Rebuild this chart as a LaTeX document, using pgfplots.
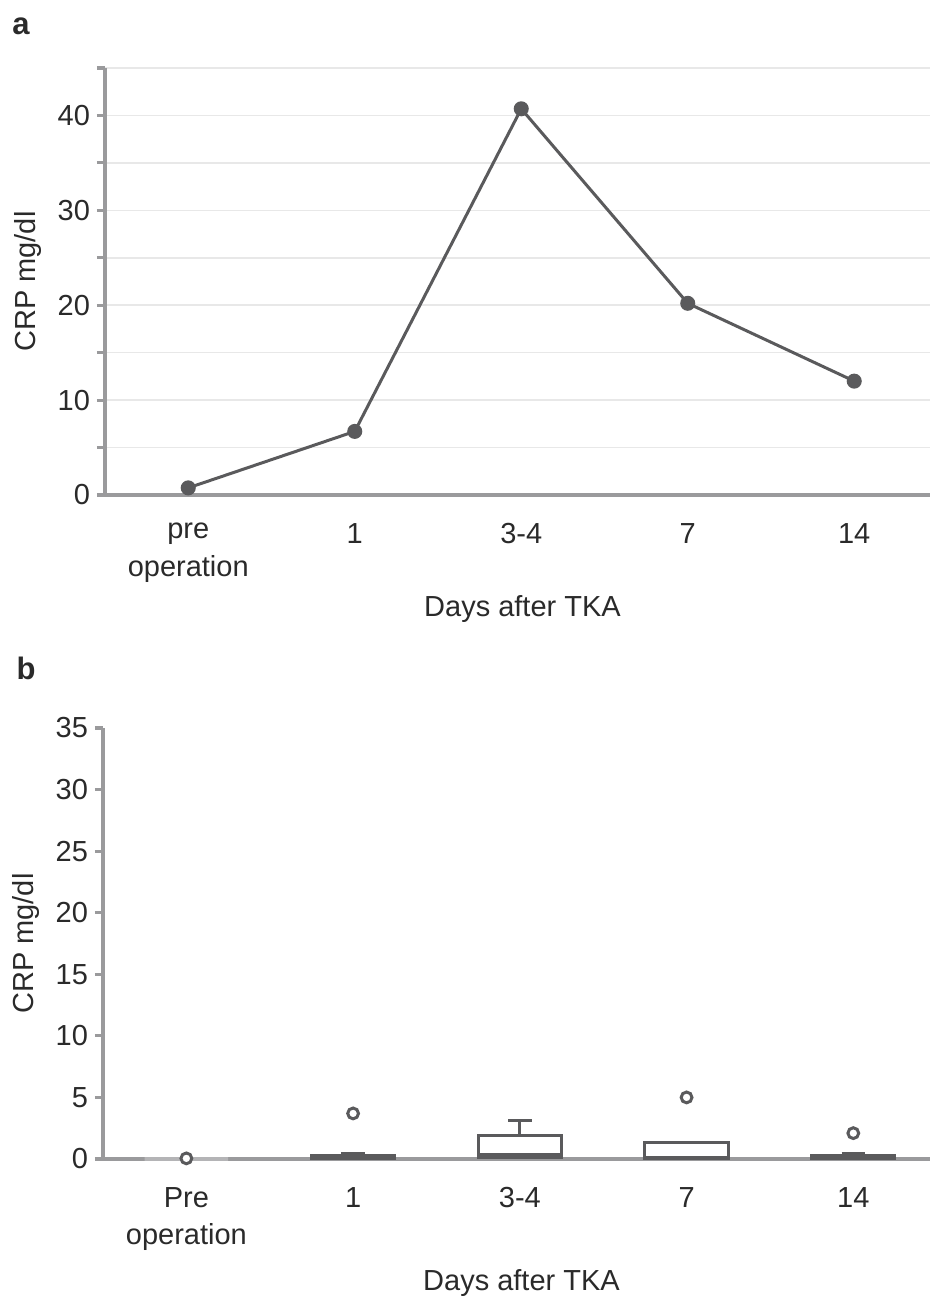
\documentclass[border=0pt]{standalone}
\usepackage{pgfplots}
\pgfplotsset{compat=1.18}
\usepgfplotslibrary{statistics}
\usepackage{fontspec}
\setmainfont{Liberation Sans}
\definecolor{axisgray}{HTML}{9A9A9C}
\definecolor{gridgray}{HTML}{E8E8E8}
\definecolor{linegray}{HTML}{5A5A5C}
\definecolor{pregray}{HTML}{B4B4B6}
\definecolor{txt}{HTML}{2A2A2A}
\newcommand\lblfont{\fontsize{14.5}{17.5}\selectfont}
\pgfplotsset{
  common/.style={
    scale only axis,
    axis lines*=left,
    axis line style={axisgray, line width=1.6pt},
    every tick/.style={axisgray, line width=1.6pt},
    tick align=outside,
    major tick length=4pt, minor tick length=4pt,
    xtick={0,1,2,3,4},
    x tick style={draw=none},
    major x tick style={draw=none},
    every tick label/.append style={font=\lblfont, text=txt},
    xticklabel style={align=center, font=\fontsize{14.5}{18.8}\selectfont, yshift=-6.5pt},
    every axis label/.append style={font=\lblfont, text=txt},
    every axis y label/.style={at={(axis description cs:0,0.5)}, xshift=-38.5pt, rotate=90, anchor=center, font=\lblfont, text=txt},
    every axis x label/.style={at={(axis description cs:0.5,0)}, anchor=center, xshift=2.5pt, font=\lblfont, text=txt},
    /pgf/number format/assume math mode=true,
  },
  outl/.style={mark=*, mark size=2.7pt, mark options={fill=white, draw=linegray, line width=1.5pt}},
}
\begin{document}
\begin{tikzpicture}
\useasboundingbox (0,0) rectangle (465pt,648.5pt);
\node[font=\fontsize{15.5}{18}\selectfont\bfseries, text=txt] at (10.5pt,635.5pt) {a};
\node[font=\fontsize{15.5}{18}\selectfont\bfseries, text=txt] at (13pt,314.5pt) {b};
% Panel a
\begin{axis}[common,
  at={(52.5pt,401pt)}, anchor=south west,
  width=412.5pt, height=213.5pt,
  xmin=-0.5, xmax=4.455, ymin=0, ymax=45,
  ytick={0,10,20,30,40}, minor ytick={5,15,25,35,45},
  ymajorgrids, yminorgrids,
  grid style={gridgray, line width=0.8pt},
  minor grid style={gridgray, line width=0.8pt},
  xticklabels={{pre\\operation},1,3-4,7,14},
  xlabel={Days after TKA},
  x label style={yshift=-57pt},
  ylabel={CRP mg/dl},
  clip=false,
]
\addplot[linegray, line width=1.5pt, mark=*, mark size=3pt, mark options={fill=linegray, draw=linegray}]
  coordinates {(0,0.75) (1,6.7) (2,40.7) (3,20.2) (4,12.0)};
\end{axis}
% Panel b
\begin{axis}[common,
  at={(51.5pt,69pt)}, anchor=south west,
  width=413.5pt, height=215.5pt,
  xmin=-0.5, xmax=4.46, ymin=0, ymax=35,
  ytick={0,5,10,15,20,25,30,35},
  xticklabels={{Pre\\operation},1,3-4,7,14},
  xlabel={Days after TKA},
  x label style={yshift=-62pt},
  ylabel={CRP mg/dl},
  clip=false,
  boxplot/draw direction=y,
  boxplot/box extend=0.5,
  boxplot/whisker extend=0.14,
]
\addplot[pregray, line width=1.6pt, outl,
  boxplot prepared={draw position=0, lower whisker=0, lower quartile=0, median=0, upper quartile=0, upper whisker=0}]
  table[row sep=\\, y index=0] {0.05\\};
\addplot[linegray, line width=1.5pt, outl,
  boxplot prepared={draw position=1, lower whisker=0.05, lower quartile=0.05, median=0.15, upper quartile=0.3, upper whisker=0.42}]
  table[row sep=\\, y index=0] {3.7\\};
\addplot[linegray, line width=1.5pt, outl,
  boxplot prepared={draw position=2, lower whisker=0.1, lower quartile=0.1, median=0.4, upper quartile=1.9, upper whisker=3.1}]
  coordinates {};
\addplot[linegray, line width=1.5pt, outl,
  boxplot prepared={draw position=3, lower whisker=0.05, lower quartile=0.05, median=0.1, upper quartile=1.35, upper whisker=1.35}]
  table[row sep=\\, y index=0] {5.0\\};
\addplot[linegray, line width=1.5pt, outl,
  boxplot prepared={draw position=4, lower whisker=0.05, lower quartile=0.05, median=0.15, upper quartile=0.3, upper whisker=0.42}]
  table[row sep=\\, y index=0] {2.1\\};
\end{axis}
\end{tikzpicture}
\end{document}
